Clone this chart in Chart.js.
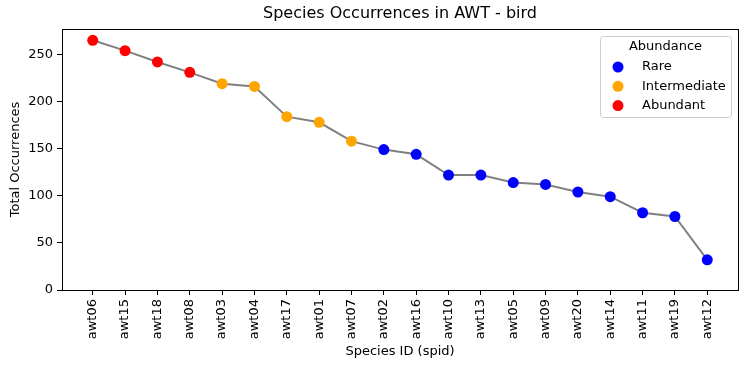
<!DOCTYPE html>
<html>
<head>
<meta charset="utf-8">
<script src="https://cdn.jsdelivr.net/npm/chart.js@4/dist/chart.umd.min.js"></script>
<style>
  html, body { margin: 0; padding: 0; background: #fff; }
  canvas { display: block; }
</style>
</head>
<body>
<canvas id="chart" width="748" height="368"></canvas>
<script>
const species = ["awt06", "awt15", "awt18", "awt08", "awt03", "awt04", "awt17", "awt01", "awt07", "awt02",
                 "awt16", "awt10", "awt13", "awt05", "awt09", "awt20", "awt14", "awt11", "awt19", "awt12"];
const occurrences = [265, 254, 242, 231, 219, 216, 184, 178, 158, 149,
                     144, 122, 122, 114, 112, 104, 99, 82, 78, 32];
const abundance = ["Abundant", "Abundant", "Abundant", "Abundant", "Intermediate", "Intermediate", "Intermediate",
                   "Intermediate", "Intermediate", "Rare", "Rare", "Rare", "Rare", "Rare", "Rare", "Rare", "Rare",
                   "Rare", "Rare", "Rare"];
const legendLabels = ["Rare", "Intermediate", "Abundant"];
const yTicks = [0, 50, 100, 150, 200, 250];

const classColor = { Rare: "#0000ff", Intermediate: "#ffa500", Abundant: "#ff0000" };
const FONT = "DejaVu Sans";

// titles, frame and legend drawn by hand to get the matplotlib look
const extras = {
  id: "extras",
  beforeDatasetsDraw(chart) {
    const { ctx, chartArea: a } = chart;
    ctx.save();
    ctx.strokeStyle = "#000";
    ctx.lineWidth = 1;
    ctx.strokeRect(a.left + 0.5, a.top + 0.5, a.right - a.left, a.bottom - a.top);
    ctx.restore();
  },
  afterDraw(chart) {
    const { ctx, chartArea: a } = chart;
    ctx.save();
    ctx.fillStyle = "#000";
    ctx.textAlign = "center";
    ctx.textBaseline = "middle";
    ctx.font = "16px " + FONT;
    ctx.fillText("Species Occurrences in AWT - bird", (a.left + a.right) / 2, 14);
    ctx.font = "13px " + FONT;
    ctx.fillText("Species ID (spid)", (a.left + a.right) / 2, 352);
    ctx.translate(16, (a.top + a.bottom) / 2);
    ctx.rotate(-Math.PI / 2);
    ctx.fillText("Total Occurrences", 0, 0);
    ctx.restore();

    // legend
    const bx = 600, by = 36, bw = 131, bh = 81;
    ctx.save();
    ctx.fillStyle = "rgba(255,255,255,0.8)";
    ctx.strokeStyle = "#cccccc";
    ctx.lineWidth = 1;
    ctx.beginPath();
    ctx.roundRect(bx + 0.5, by + 0.5, bw, bh, 3);
    ctx.fill();
    ctx.stroke();
    ctx.fillStyle = "#000";
    ctx.font = "13px " + FONT;
    ctx.textAlign = "center";
    ctx.textBaseline = "middle";
    ctx.fillText("Abundance", bx + bw / 2, by + 11);
    ctx.textAlign = "left";
    legendLabels.forEach((lab, i) => {
      const y = by + 31 + i * 19.3;
      ctx.fillStyle = classColor[lab];
      ctx.beginPath();
      ctx.arc(bx + 18, y, 5.5, 0, Math.PI * 2);
      ctx.fill();
      ctx.fillStyle = "#000";
      ctx.fillText(lab, bx + 42, y);
    });
    ctx.restore();
  }
};

new Chart(document.getElementById("chart"), {
  type: "line",
  data: {
    datasets: [{
      data: occurrences.map((v, i) => ({ x: i, y: v })),
      borderColor: "#808080",
      borderWidth: 2,
      pointRadius: 5.5,
      pointHoverRadius: 5.5,
      pointBorderWidth: 0,
      pointBackgroundColor: abundance.map(c => classColor[c]),
      pointBorderColor: abundance.map(c => classColor[c]),
      tension: 0
    }]
  },
  options: {
    responsive: false,
    animation: false,
    events: [],
    layout: { padding: { top: 29, left: 0, right: 10, bottom: 0 } },
    plugins: { legend: { display: false }, tooltip: { enabled: false }, title: { display: false } },
    scales: {
      x: {
        type: "linear",
        min: -0.95,
        max: species.length - 1 + 0.95,
        afterBuildTicks: s => { s.ticks = species.map((_, i) => ({ value: i })); },
        afterFit: s => { s.height = 78; },
        grid: { drawOnChartArea: false, drawTicks: true, tickLength: 5, color: "#000" },
        border: { display: false },
        ticks: {
          autoSkip: false,
          minRotation: 90,
          maxRotation: 90,
          padding: 4,
          color: "#000",
          font: { family: FONT, size: 13 },
          callback: v => species[v]
        }
      },
      y: {
        min: 0,
        max: 277,
        afterBuildTicks: s => { s.ticks = yTicks.map(v => ({ value: v })); },
        afterFit: s => { s.width = 62; },
        grid: { drawOnChartArea: false, drawTicks: true, tickLength: 5, color: "#000" },
        border: { display: false },
        ticks: {
          padding: 4,
          color: "#000",
          font: { family: FONT, size: 13 }
        }
      }
    }
  },
  plugins: [extras]
});
</script>
</body>
</html>
